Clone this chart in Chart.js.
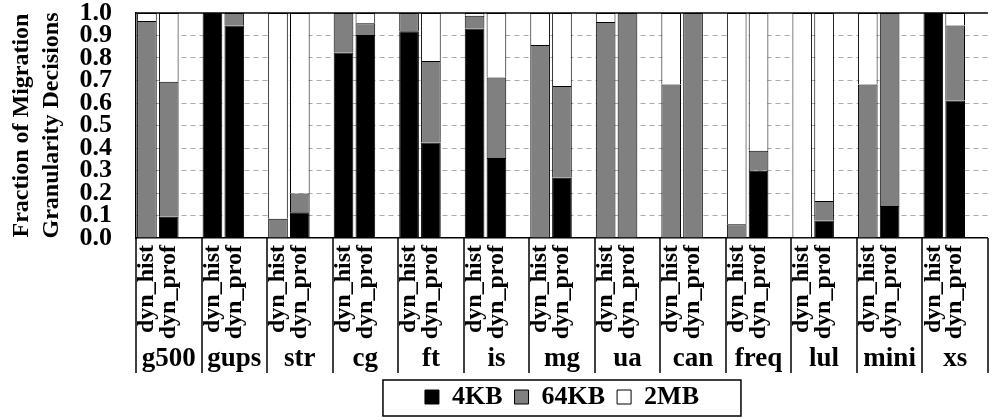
<!DOCTYPE html>
<html>
<head>
<meta charset="utf-8">
<script src="https://cdn.jsdelivr.net/npm/chart.js@4/dist/chart.umd.min.js"></script>
<style>
  html, body { margin: 0; padding: 0; background: #fff; overflow: hidden; }
  #wrap { width: 1008px; height: 420px; position: relative; }
</style>
</head>
<body>
<div id="wrap"><canvas id="chart"></canvas></div>
<script>
// benchmarks, two configs per benchmark, then an empty slot
const groups = ['g500', 'gups', 'str', 'cg', 'ft', 'is', 'mg', 'ua', 'can', 'freq', 'lul', 'mini', 'xs'];
const configs = ['dyn_hist', 'dyn_prof'];
const yTicks = [0, 0.1, 0.2, 0.3, 0.4, 0.5, 0.6, 0.7, 0.8, 0.9, 1.0];

const hist4KB  = [0, 1.0, 0, 0.824, 0.919, 0.931, 0, 0, 0, 0, 0, 0, 1.0];
const hist64KB = [0.965, 0, 0.086, 0.176, 0.081, 0.057, 0.858, 0.960, 0.682, 0.061, 0.004, 0.682, 0];
const hist2MB  = [0.035, 0, 0.914, 0, 0, 0.012, 0.142, 0.040, 0.318, 0.939, 0.996, 0.318, 0];

const prof4KB  = [0.095, 0.944, 0.114, 0.902, 0.425, 0.356, 0.268, 0, 0, 0.299, 0.078, 0.142, 0.611];
const prof64KB = [0.599, 0.056, 0.084, 0.052, 0.362, 0.357, 0.408, 1.0, 1.0, 0.089, 0.086, 0.858, 0.334];
const prof2MB  = [0.306, 0, 0.802, 0.046, 0.213, 0.287, 0.324, 0, 0, 0.612, 0.836, 0, 0.055];

const serif = '"Liberation Serif", "Times New Roman", serif';

// one slot per bar plus a blank slot after each benchmark
const slotLabels = groups.flatMap(() => [...configs, '']);
const slots = (hist, prof) => groups.flatMap((g, i) => [hist[i], prof[i], null]);

const frame = {
  id: 'frame',
  afterDraw(chart) {
    const { ctx, chartArea: a, scales: { x2 } } = chart;
    const half = (x2.getPixelForValue(1) - x2.getPixelForValue(0)) / 2;
    ctx.save();
    ctx.strokeStyle = '#000';
    ctx.lineWidth = 1.5;
    ctx.beginPath();
    ctx.moveTo(a.left, a.top);
    ctx.lineTo(a.right, a.top);
    for (let i = 0; i <= groups.length; i++) {
      const px = Math.round(x2.getPixelForValue(i) - half);
      ctx.moveTo(px, a.bottom);
      ctx.lineTo(px, x2.bottom + 1);
    }
    ctx.stroke();

    // box round the legend
    const boxes = chart.legend.legendHitBoxes;
    if (boxes && boxes.length) {
      const first = boxes[0], last = boxes[boxes.length - 1];
      const cx = (first.left + last.left + last.width) / 2;
      const cy = first.top + first.height / 2;
      ctx.strokeRect(cx - 179, cy - 17, 358, 36);
    }
    ctx.restore();
  }
};

new Chart(document.getElementById('chart'), {
  type: 'bar',
  data: {
    labels: slotLabels,
    datasets: [
      { label: '4KB', data: slots(hist4KB, prof4KB), backgroundColor: '#000000' },
      { label: '64KB', data: slots(hist64KB, prof64KB), backgroundColor: '#808080' },
      { label: '2MB', data: slots(hist2MB, prof2MB), backgroundColor: '#ffffff' }
    ].map(ds => ({ ...ds, borderColor: '#000', borderWidth: 1, barPercentage: 0.9, categoryPercentage: 1 }))
  },
  options: {
    responsive: true,
    maintainAspectRatio: false,
    animation: false,
    layout: { padding: 0 },
    plugins: {
      legend: {
        position: 'bottom',
        fullSize: false,
        labels: {
          color: '#000',
          boxWidth: 14,
          boxHeight: 14,
          padding: 12,
          font: { family: serif, weight: 'bold', size: 26 }
        }
      },
      tooltip: { enabled: false }
    },
    scales: {
      x: {
        stacked: true,
        offset: true,
        grid: { display: false, drawTicks: false },
        border: { display: true, color: '#000', width: 1.5 },
        ticks: {
          autoSkip: false,
          maxRotation: 90,
          minRotation: 90,
          padding: 7,
          color: '#000',
          font: { family: serif, weight: 'bold', size: 24, lineHeight: 1 }
        },
        afterFit: scale => { scale.height = 104; }
      },
      x2: {
        type: 'category',
        labels: groups,
        position: 'bottom',
        offset: true,
        grid: { display: false, drawTicks: false },
        border: { display: false },
        ticks: {
          autoSkip: false,
          maxRotation: 0,
          padding: 4,
          color: '#000',
          font: { family: serif, weight: 'bold', size: 27, lineHeight: 1 }
        },
        afterFit: scale => { scale.height = 30; }
      },
      y: {
        stacked: true,
        min: 0,
        max: 1,
        afterBuildTicks: scale => { scale.ticks = yTicks.map(v => ({ value: v })); },
        afterFit: scale => { scale.width = 136; },
        ticks: {
          autoSkip: false,
          padding: 0,
          color: '#000',
          font: { family: serif, weight: 'bold', size: 26, lineHeight: 1 },
          callback: v => Number(v).toFixed(1)
        },
        grid: {
          drawTicks: true,
          tickLength: 24,
          tickColor: 'rgba(0,0,0,0)',
          lineWidth: 1,
          color: c => (c.tick && (c.tick.value === 0 || c.tick.value === 1)) ? 'rgba(0,0,0,0)' : '#aaaaaa'
        },
        border: { display: true, color: '#000', width: 1.5, dash: [5, 4] },
        title: {
          display: true,
          text: ['Fraction of Migration', 'Granularity Decisions'],
          color: '#000',
          font: { family: serif, weight: 'bold', size: 24, lineHeight: 1.25 },
          padding: { top: 7, bottom: 4 }
        }
      }
    }
  },
  plugins: [frame]
});
</script>
</body>
</html>
